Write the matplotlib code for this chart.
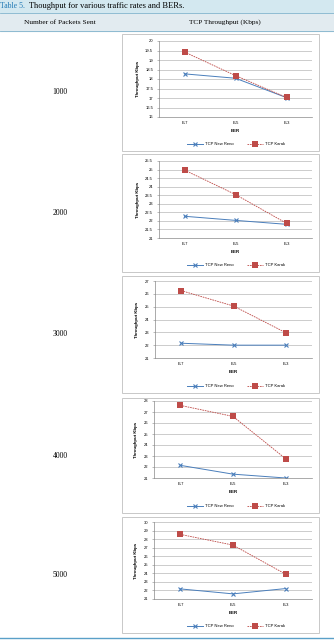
import matplotlib
matplotlib.use("Agg")
import matplotlib.pyplot as plt
from matplotlib.patches import Rectangle
from matplotlib.lines import Line2D
import numpy as np

W, H = 334, 641

ber = ["E-7", "E-5", "E-3"]
packets = ["1000", "2000", "3000", "4000", "5000"]
reno = [
    [18.27, 18.04, 17.02],
    [22.27, 22.03, 21.80],
    [22.15, 22.00, 22.00],
    [22.15, 21.35, 21.00],
    [22.18, 21.60, 22.22],
]
karak = [
    [19.42, 18.18, 17.03],
    [24.97, 23.54, 21.86],
    [26.25, 25.05, 22.97],
    [27.60, 26.60, 22.75],
    [28.55, 27.30, 23.90],
]
yticks = [
    np.arange(16, 20.01, 0.5),
    np.arange(21, 25.51, 0.5),
    np.arange(21, 27.01, 1),
    np.arange(21, 28.01, 1),
    np.arange(21, 30.01, 1),
]

# pixel layout of each cell: box top, box bottom, plot top, plot bottom, plot left
cells = [
    (34, 151, 41, 117, 159),
    (154, 272, 161, 238, 159),
    (276, 393, 281, 358, 155),
    (398, 513, 401, 478, 154),
    (517, 633, 522, 599, 154),
]
plot_right = 312
box_left, box_right = 122, 319

blue = "#4a7ebb"
red = "#be4b48"
grid = "#b8b8b8"


def fx(x):
    return x / W


def fy(y):
    return 1 - y / H


fig = plt.figure(figsize=(W / 100, H / 100), dpi=100)

# table title band and header row
fig.patches.append(Rectangle((0, fy(12)), 1, 12 / H, transform=fig.transFigure,
                             color="#d3e8f0", zorder=0))
fig.patches.append(Rectangle((0, fy(31)), 1, 17 / H, transform=fig.transFigure,
                             color="#e2ebf0", zorder=0))
for yy in (13, 31):
    fig.lines.append(Line2D([0, 1], [fy(yy), fy(yy)], transform=fig.transFigure,
                            color="#7fb2cc", lw=0.6))
fig.lines.append(Line2D([0, 1], [fy(637.5), fy(637.5)], transform=fig.transFigure,
                        color="#5aa0c8", lw=1.0))

fig.text(fx(0.5), fy(6.5), "Table 5.", color="#1f78b4", fontsize=5.6,
         family="Liberation Serif", va="center", ha="left")
fig.text(fx(29), fy(6.5), "Thoughput for various traffic rates and BERs.", color="black",
         fontsize=6, family="Liberation Serif", va="center", ha="left")
fig.text(fx(60), fy(22), "Number of Packets Sent", fontsize=5.3,
         family="Liberation Serif", va="center", ha="center")
fig.text(fx(225), fy(22), "TCP Throughput (Kbps)", fontsize=5.3,
         family="Liberation Serif", va="center", ha="center")

for i in range(len(packets)):
    bt, bb, pt, pb, pl = cells[i]
    fig.text(fx(60), fy((bt + bb) / 2), packets[i], fontsize=5.5,
             family="Liberation Serif", va="center", ha="center")
    fig.patches.append(Rectangle((fx(box_left), fy(bb)), fx(box_right) - fx(box_left),
                                 (bb - bt) / H, transform=fig.transFigure,
                                 fill=False, edgecolor="#c8c8c8", lw=0.7))

    ax = fig.add_axes([fx(pl), fy(pb), fx(plot_right) - fx(pl), (pb - pt) / H])
    x = np.arange(len(ber))
    ax.plot(x, reno[i], color=blue, lw=0.7, marker="x", ms=3.2, mew=0.8,
            label="TCP New Reno")
    ax.plot(x, karak[i], color=red, lw=0.6, ls=(0, (2, 1)), marker="s", ms=3.8,
            mew=0, label="TCP Karak")
    ax.set_xlim(-0.5, 2.5)
    ax.set_ylim(yticks[i][0], yticks[i][-1])
    ax.set_yticks(yticks[i])
    ax.set_yticklabels([("%g" % v) for v in yticks[i]], fontsize=3,
                       family="Liberation Sans")
    ax.set_xticks(x)
    ax.set_xticklabels(ber, fontsize=3, family="Liberation Sans")
    ax.tick_params(axis="y", length=1.2, width=0.4, color="#888888", pad=3)
    ax.tick_params(axis="x", length=0, pad=3)
    ax.grid(axis="y", color=grid, lw=0.5)
    ax.set_axisbelow(True)
    for s in ("top", "right"):
        ax.spines[s].set_visible(False)
    for s in ("left", "bottom"):
        ax.spines[s].set_color("#888888")
        ax.spines[s].set_linewidth(0.5)
    ax.set_xlabel("BER", fontsize=3.2, family="Liberation Sans", fontweight="bold",
                  labelpad=2.5)
    ax.set_ylabel("Throughput Kbps", fontsize=3.2, family="Liberation Sans",
                  fontweight="bold", labelpad=4)
    ax.legend(loc="center", bbox_to_anchor=(fx(236), fy(bb - 7)),
              bbox_transform=fig.transFigure, ncol=2, frameon=False,
              prop={"family": "Liberation Sans", "size": 3},
              handlelength=4, columnspacing=3, handletextpad=0.5)

fig.savefig("out.png", dpi=100)
